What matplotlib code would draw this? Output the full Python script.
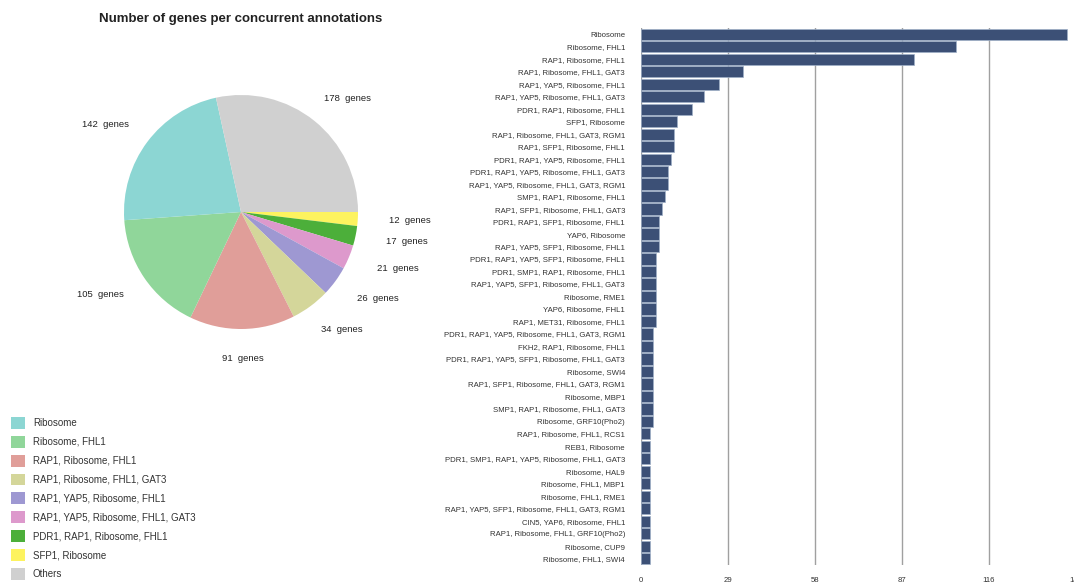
import numpy as np
import matplotlib
matplotlib.use("Agg")
import matplotlib.pyplot as plt
from matplotlib.patches import Patch

plt.rcParams['font.family'] = ['Liberation Sans', 'DejaVu Sans']

# ---------------- data ----------------
pie_labels = ["Ribosome", "Ribosome, FHL1", "RAP1, Ribosome, FHL1",
              "RAP1, Ribosome, FHL1, GAT3", "RAP1, YAP5, Ribosome, FHL1",
              "RAP1, YAP5, Ribosome, FHL1, GAT3", "PDR1, RAP1, Ribosome, FHL1",
              "SFP1, Ribosome", "Others"]
pie_values = [142, 105, 91, 34, 26, 21, 17, 12, 178]
pie_colors = ["#8cd6d3", "#90d69a", "#e09e99", "#d4d69a", "#9e98d2",
              "#dd99cc", "#4caf3a", "#fdf35f", "#d0d0d0"]

bar_categories = [
    "Ribosome", "Ribosome, FHL1", "RAP1, Ribosome, FHL1",
    "RAP1, Ribosome, FHL1, GAT3", "RAP1, YAP5, Ribosome, FHL1",
    "RAP1, YAP5, Ribosome, FHL1, GAT3", "PDR1, RAP1, Ribosome, FHL1",
    "SFP1, Ribosome", "RAP1, Ribosome, FHL1, GAT3, RGM1",
    "RAP1, SFP1, Ribosome, FHL1", "PDR1, RAP1, YAP5, Ribosome, FHL1",
    "PDR1, RAP1, YAP5, Ribosome, FHL1, GAT3",
    "RAP1, YAP5, Ribosome, FHL1, GAT3, RGM1", "SMP1, RAP1, Ribosome, FHL1",
    "RAP1, SFP1, Ribosome, FHL1, GAT3", "PDR1, RAP1, SFP1, Ribosome, FHL1",
    "YAP6, Ribosome", "RAP1, YAP5, SFP1, Ribosome, FHL1",
    "PDR1, RAP1, YAP5, SFP1, Ribosome, FHL1",
    "PDR1, SMP1, RAP1, Ribosome, FHL1",
    "RAP1, YAP5, SFP1, Ribosome, FHL1, GAT3", "Ribosome, RME1",
    "YAP6, Ribosome, FHL1", "RAP1, MET31, Ribosome, FHL1",
    "PDR1, RAP1, YAP5, Ribosome, FHL1, GAT3, RGM1",
    "FKH2, RAP1, Ribosome, FHL1",
    "PDR1, RAP1, YAP5, SFP1, Ribosome, FHL1, GAT3", "Ribosome, SWI4",
    "RAP1, SFP1, Ribosome, FHL1, GAT3, RGM1", "Ribosome, MBP1",
    "SMP1, RAP1, Ribosome, FHL1, GAT3", "Ribosome, GRF10(Pho2)",
    "RAP1, Ribosome, FHL1, RCS1", "REB1, Ribosome",
    "PDR1, SMP1, RAP1, YAP5, Ribosome, FHL1, GAT3", "Ribosome, HAL9",
    "Ribosome, FHL1, MBP1", "Ribosome, FHL1, RME1",
    "RAP1, YAP5, SFP1, Ribosome, FHL1, GAT3, RGM1",
    "CIN5, YAP6, Ribosome, FHL1", "RAP1, Ribosome, FHL1, GRF10(Pho2)",
    "Ribosome, CUP9", "Ribosome, FHL1, SWI4"]
bar_values = [142, 105, 91, 34, 26, 21, 17, 12, 11, 11, 10, 9, 9, 8, 7,
              6, 6, 6, 5, 5, 5, 5, 5, 5, 4, 4, 4, 4, 4, 4, 4, 4,
              3, 3, 3, 3, 3, 3, 3, 3, 3, 3, 3]
x_ticks = [0, 29, 58, 87, 116, 145]

# ---------------- figure ----------------
W, H = 1074, 585
fig = plt.figure(figsize=(W / 100, H / 100), dpi=100)

# Pie
cx, cy, R = 241, 212, 117
span = 1.6
ax_pie = fig.add_axes([(cx - span * R) / W, 1 - (cy + span * R) / H,
                       2 * span * R / W, 2 * span * R / H])
ax_pie.axis('off')

order = list(range(len(pie_values)))
draw_order = order[:-1][::-1] + [order[-1]]  # SFP1 ... Ribosome, Others clockwise
wedges, _ = ax_pie.pie([pie_values[i] for i in draw_order],
                       colors=[pie_colors[i] for i in draw_order],
                       startangle=0, counterclock=False, radius=1,
                       wedgeprops=dict(linewidth=0))
ax_pie.set_xlim(-span, span)
ax_pie.set_ylim(-span, span)
ax_pie.set_aspect('equal')
for w, i in zip(wedges, draw_order):
    mid = np.deg2rad((w.theta1 + w.theta2) / 2)
    ax_pie.text(1.45 * np.cos(mid), 1.25 * np.sin(mid),
                f"{pie_values[i]}  genes", ha='center', va='center',
                fontsize=6.8, color='#222222')

fig.text(cx / W, 1 - 19 / H, "Number of genes per concurrent annotations",
         ha='center', va='center', fontsize=9.5, fontweight='bold',
         color='#222222')

handles = [Patch(facecolor=c, edgecolor='none') for c in pie_colors]
fig.legend(handles, pie_labels, loc='upper left',
           bbox_to_anchor=(11 / W, 1 - 417 / H), frameon=False,
           fontsize=7, handlelength=1.45, handleheight=1.5,
           labelspacing=0.72, handletextpad=0.8, borderaxespad=0,
           borderpad=0, labelcolor='#333333')

# Bars
left, right, top, bottom = 641, 1076, 28, 565
ax = fig.add_axes([left / W, 1 - bottom / H, (right - left) / W,
                   (bottom - top) / H])
y = np.arange(len(bar_categories))
ax.barh(y, bar_values, height=0.9, color='#3c5076',
        edgecolor='#9fb0c8', linewidth=0.5, zorder=3)
ax.set_ylim(len(bar_categories) - 0.5, -0.5)
ax.set_xlim(x_ticks[0], x_ticks[-1])
ax.set_yticks(y)
ax.set_yticklabels(bar_categories, fontsize=5.6, color='#333333')
ax.set_xticks(x_ticks)
ax.set_xticklabels([str(t) for t in x_ticks], fontsize=5.6, color='#333333')
ax.tick_params(axis='y', length=0, pad=11.5)
ax.tick_params(axis='x', length=0, pad=9)
ax.grid(axis='x', color='#a0a0a0', linewidth=1, zorder=0)
for s in ax.spines.values():
    s.set_visible(False)

fig.savefig("out.png", dpi=100)
